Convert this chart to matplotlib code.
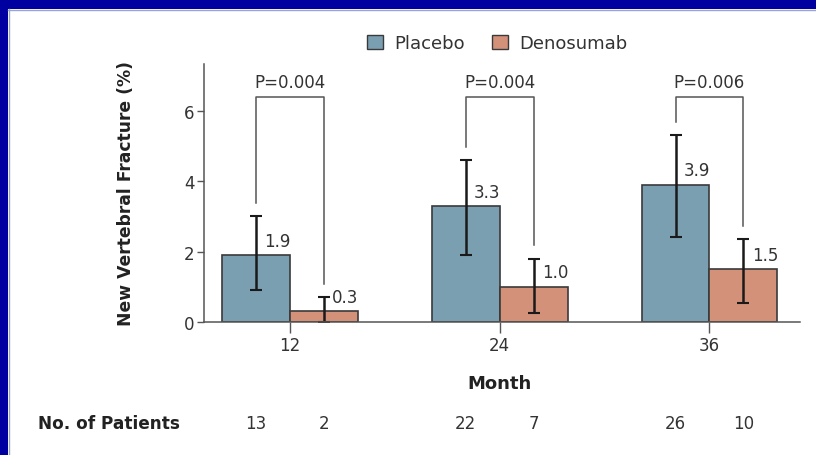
import matplotlib.pyplot as plt
from matplotlib.patches import Patch, Rectangle
import numpy as np

# valores
months = ['12', '24', '36']
placebo = [1.9, 3.3, 3.9]
denosumab = [0.3, 1.0, 1.5]
placebo_lo = [0.9, 1.9, 2.4]
placebo_hi = [3.0, 4.6, 5.3]
denosumab_lo = [0.0, 0.25, 0.55]
denosumab_hi = [0.7, 1.8, 2.35]
p_values = ['P=0.004', 'P=0.004', 'P=0.006']
n_placebo = [13, 22, 26]
n_denosumab = [2, 7, 10]

c_placebo = '#7a9fb1'
c_denos = '#d4917a'
edge = '#3a3a3a'
txt = '#333333'
axis_c = '#555555'

plt.rcParams['font.family'] = ['DejaVu Sans']

fig = plt.figure(figsize=(8.16, 4.56), dpi=100)
ax = fig.add_axes([0.25, 0.2917, 0.73, 0.566])

x = np.arange(len(months))
w = 0.324
xp = x - w / 2
xd = x + w / 2

ax.bar(xp, placebo, w, color=c_placebo, edgecolor=edge, linewidth=1.2)
ax.bar(xd, denosumab, w, color=c_denos, edgecolor=edge, linewidth=1.2)

err_p = [np.array(placebo) - placebo_lo, np.array(placebo_hi) - placebo]
err_d = [np.array(denosumab) - denosumab_lo, np.array(denosumab_hi) - denosumab]
ax.errorbar(xp, placebo, yerr=err_p, fmt='none', ecolor='#1a1a1a', elinewidth=1.8, capsize=4, capthick=1.5)
ax.errorbar(xd, denosumab, yerr=err_d, fmt='none', ecolor='#1a1a1a', elinewidth=1.8, capsize=4, capthick=1.5)

# etiquetas de valores
for i in range(len(months)):
    ax.text(xp[i] + 0.04, placebo[i] + 0.15, f'{placebo[i]:.1f}', fontsize=12, color=txt, ha='left', va='bottom')
    ax.text(xd[i] + 0.04, denosumab[i] + 0.15, f'{denosumab[i]:.1f}', fontsize=12, color=txt, ha='left', va='bottom')

# corchetes con valores P
top = 6.4
for i in range(len(months)):
    ax.plot([xp[i], xp[i], xd[i], xd[i]],
            [placebo_hi[i] + 0.38, top, top, denosumab_hi[i] + 0.38],
            color=axis_c, linewidth=1.1)
    ax.text(x[i], top + 0.15, p_values[i], fontsize=12, color=txt, ha='center', va='bottom')

ax.set_xlim(-0.41, 2.43)
ax.set_ylim(0, 7.33)
ax.set_yticks([0, 2, 4, 6])
ax.set_xticks(x)
ax.set_xticklabels(months)
ax.tick_params(axis='both', colors=axis_c, labelcolor=txt, labelsize=12, width=1)
ax.tick_params(axis='x', length=8, pad=2)
ax.tick_params(axis='y', length=5, pad=2)
for s in ['top', 'right']:
    ax.spines[s].set_visible(False)
for s in ['left', 'bottom']:
    ax.spines[s].set_color(axis_c)
    ax.spines[s].set_linewidth(1.1)

ax.set_ylabel('New Vertebral Fracture (%)', fontsize=12.3, fontweight='bold', color='#222222',
              labelpad=35)

# etiqueta del eje x y fila de pacientes
trans = ax.get_xaxis_transform()
ax.text(1, -0.236, 'Month', transform=trans, ha='center', va='center', fontsize=13,
        fontweight='bold', color='#222222')
for i in range(len(months)):
    ax.text(xp[i], -0.391, str(n_placebo[i]), transform=trans, ha='center', va='center', fontsize=12, color=txt)
    ax.text(xd[i], -0.391, str(n_denosumab[i]), transform=trans, ha='center', va='center', fontsize=12, color=txt)
fig.text(0.0466, 0.070, 'No. of Patients', ha='left', va='center', fontsize=12.2, fontweight='bold', color='#222222')

handles = [Patch(facecolor=c_placebo, edgecolor=edge, label='Placebo'),
           Patch(facecolor=c_denos, edgecolor=edge, label='Denosumab')]
fig.legend(handles=handles, loc='center', bbox_to_anchor=(0.609, 0.903), ncol=2, frameon=False,
           fontsize=13, handlelength=0.9, handleheight=0.9, columnspacing=1.5, handletextpad=0.6,
           labelcolor=txt)

# marco azul
fig.patches.append(Rectangle((0, 1 - 10 / 456), 1, 10 / 456, transform=fig.transFigure,
                             facecolor='#0000a0', edgecolor='none'))
fig.patches.append(Rectangle((0, 0), 8 / 816, 1, transform=fig.transFigure,
                             facecolor='#0000a0', edgecolor='none'))
fig.add_artist(plt.Line2D([8 / 816, 1], [1 - 11 / 456, 1 - 11 / 456], transform=fig.transFigure,
                          color='#9aa6c8', linewidth=1))
fig.add_artist(plt.Line2D([9 / 816, 9 / 816], [0, 1 - 10 / 456], transform=fig.transFigure,
                          color='#9aa6c8', linewidth=1))

fig.savefig('out.png', dpi=100)
